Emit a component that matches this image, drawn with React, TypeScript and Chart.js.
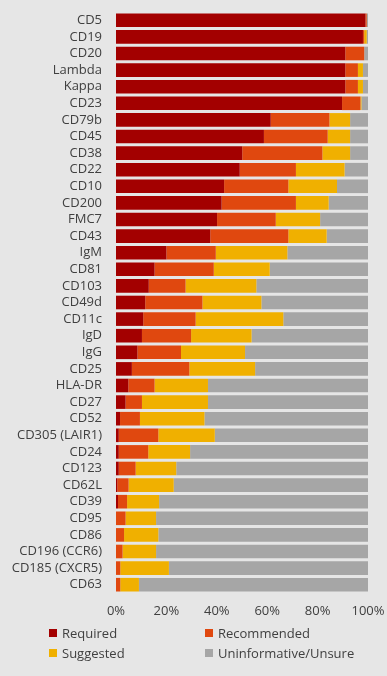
import React, { useEffect, useRef } from "react";
import { Chart, registerables } from "chart.js";

Chart.register(...registerables);

const categories = [
  "CD5", "CD19", "CD20", "Lambda", "Kappa", "CD23", "CD79b", "CD45", "CD38", "CD22",
  "CD10", "CD200", "FMC7", "CD43", "IgM", "CD81", "CD103", "CD49d", "CD11c", "IgD",
  "IgG", "CD25", "HLA-DR", "CD27", "CD52", "CD305 (LAIR1)", "CD24", "CD123", "CD62L", "CD39",
  "CD95", "CD86", "CD196 (CCR6)", "CD185 (CXCR5)", "CD63",
];

const required = [
  99, 98, 91, 91, 91, 89.7, 61.4, 58.7, 50.1, 49.1,
  42.9, 41.9, 40.1, 37.4, 20, 15.3, 13, 11.6, 10.8, 10.3,
  8.5, 6.3, 4.9, 3.8, 1.6, 1.1, 1.1, 1.1, 0.5, 0.8,
  0, 0, 0, 0, 0,
];
const recommended = [
  0.5, 0.5, 7.5, 5, 5, 7.3, 23.3, 25.3, 31.8, 22.3,
  25.5, 29.5, 23.3, 31, 19.6, 23.5, 14.6, 22.7, 20.8, 19.5,
  17.3, 22.8, 10.4, 6.5, 7.9, 15.7, 11.7, 6.7, 4.5, 3.6,
  3.8, 3.2, 2.6, 1.7, 1.7,
];
const suggested = [
  0, 1, 0, 2, 2, 0.4, 8.2, 8.9, 11, 19.3,
  19.3, 13, 17.6, 15.2, 28.4, 22.2, 28.1, 23.4, 34.8, 24,
  25.4, 26.1, 21.2, 26.2, 25.6, 22.4, 16.6, 16.1, 17.9, 12.7,
  12.1, 13.6, 13.3, 19.3, 7.4,
];
const uninformative = [
  0.5, 0.5, 1.5, 2, 2, 2.6, 7.1, 7.1, 7.1, 9.3,
  12.3, 15.6, 19, 16.4, 32, 39, 44.3, 42.3, 33.6, 46.2,
  48.8, 44.8, 63.5, 63.5, 64.9, 60.8, 70.6, 76.1, 77.1, 82.9,
  84.1, 83.2, 84.1, 79, 90.9,
];

const seriesNames = ["Required", "Recommended", "Suggested", "Uninformative/Unsure"];
const seriesColors = ["#a30000", "#e0480f", "#f0b000", "#a6a6a6"];
const xTicks = [0, 20, 40, 60, 80, 100];

export default function App() {
  const ref = useRef<HTMLCanvasElement | null>(null);

  useEffect(() => {
    document.body.style.margin = "0";
    const canvas = ref.current;
    if (!canvas) return;
    const values = [required, recommended, suggested, uninformative];
    const chart = new Chart(canvas, {
      type: "bar",
      data: {
        labels: categories,
        datasets: values.map((v, i) => ({
          label: seriesNames[i],
          data: v,
          backgroundColor: seriesColors[i],
          borderWidth: 0,
          barPercentage: 0.82,
          categoryPercentage: 1,
        })),
      },
      options: {
        indexAxis: "y",
        responsive: false,
        animation: false,
        layout: { padding: { top: 12, right: 19, bottom: 53, left: 0 } },
        plugins: {
          legend: { display: false },
          tooltip: { enabled: false },
        },
        scales: {
          x: {
            stacked: true,
            min: 0,
            max: 100,
            afterBuildTicks: (s: any) => {
              s.ticks = xTicks.map((v) => ({ value: v }));
            },
            afterFit: (s: any) => {
              s.height = 30;
              s.paddingLeft = 0;
              s.paddingRight = 0;
            },
            grid: { display: false, drawTicks: false },
            border: { display: false },
            ticks: {
              padding: 10,
              color: "#404040",
              font: { family: "Open Sans", size: 13 },
              callback: (v: any) => v + "%",
            },
          },
          y: {
            stacked: true,
            afterFit: (s: any) => {
              s.width = 116;
              s.paddingTop = 0;
              s.paddingBottom = 0;
            },
            grid: { display: false, drawTicks: false },
            border: { display: false },
            ticks: {
              padding: 14,
              autoSkip: false,
              color: "#404040",
              font: { family: "Open Sans", size: 13 },
            },
          },
        },
      },
    });
    return () => chart.destroy();
  }, []);

  const legendItem = (i: number, left: number, top: number) => (
    <div
      key={i}
      style={{
        position: "absolute",
        left,
        top,
        height: 16,
        lineHeight: "16px",
        display: "flex",
        alignItems: "center",
        fontFamily: "Open Sans",
        fontSize: 13,
        color: "#404040",
        whiteSpace: "nowrap",
      }}
    >
      <span
        style={{
          display: "inline-block",
          width: 8,
          height: 8,
          background: seriesColors[i],
          marginRight: 5,
        }}
      />
      {seriesNames[i]}
    </div>
  );

  return (
    <div
      style={{
        position: "relative",
        width: 387,
        height: 676,
        background: "#e6e6e6",
        overflow: "hidden",
      }}
    >
      <canvas ref={ref} width={387} height={676} style={{ display: "block" }} />
      {legendItem(0, 49, 625)}
      {legendItem(1, 205, 625)}
      {legendItem(2, 49, 645)}
      {legendItem(3, 205, 645)}
    </div>
  );
}
